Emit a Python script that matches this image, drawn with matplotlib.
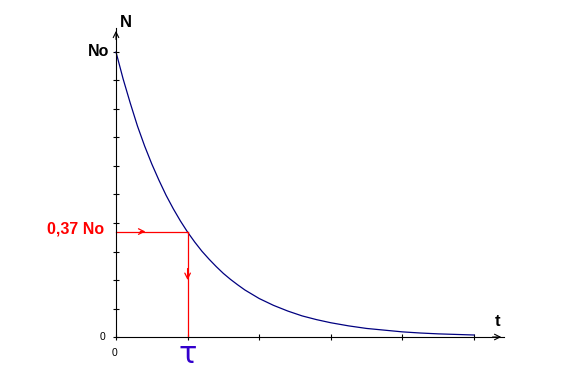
import numpy as np
import matplotlib
matplotlib.use('Agg')
import matplotlib.pyplot as plt

# values (t in units of tau, N in units of No)
t_vals = [0.0, 0.1, 0.2, 0.3, 0.4, 0.5, 0.6, 0.7, 0.8, 0.9, 1.0,
          1.1, 1.2, 1.3, 1.4, 1.5, 1.6, 1.7, 1.8, 1.9, 2.0,
          2.2, 2.4, 2.6, 2.8, 3.0, 3.25, 3.5, 3.75, 4.0, 4.25, 4.5, 4.75, 5.0]
n_vals = [1.00, 0.905, 0.82, 0.74, 0.67, 0.607, 0.55, 0.497, 0.45, 0.407, 0.368,
          0.333, 0.301, 0.273, 0.247, 0.223, 0.202, 0.183, 0.165, 0.15, 0.135,
          0.111, 0.091, 0.074, 0.061, 0.05, 0.039, 0.030, 0.024, 0.018, 0.014,
          0.011, 0.009, 0.007]
tau = 1.0
n_tau = 0.37
x_ticks = [0, 1, 2, 3, 4, 5]
y_ticks = [0.0, 0.1, 0.2, 0.3, 0.4, 0.5, 0.6, 0.7, 0.8, 0.9, 1.0]
x_end = 5.42
y_end = 1.084

plt.rcParams['font.family'] = ['Liberation Sans', 'DejaVu Sans']

fig = plt.figure(figsize=(5.64, 3.92), dpi=100)
ax = fig.add_axes([0, 0, 1, 1])
# pixel mapping: x px = 116 + 71.6 t, y px = 337 - 285 N
ax.set_xlim(-116 / 71.6, (564 - 116) / 71.6)
ax.set_ylim(-55 / 285, 337 / 285)

for s in ['top', 'right']:
    ax.spines[s].set_visible(False)
ax.spines['left'].set_position(('data', 0))
ax.spines['bottom'].set_position(('data', 0))
ax.spines['left'].set_bounds(0, y_end)
ax.spines['bottom'].set_bounds(0, x_end)
ax.spines['left'].set_linewidth(0.8)
ax.spines['bottom'].set_linewidth(0.8)
ax.set_xticks(x_ticks)
ax.set_yticks(y_ticks)
ax.tick_params(direction='inout', length=4, width=0.8, labelbottom=False, labelleft=False)

# axis arrowheads
ax.annotate('', xy=(0, y_end), xytext=(0, y_end - 0.05),
            arrowprops=dict(arrowstyle='->', color='black', lw=0.8, mutation_scale=10))
ax.annotate('', xy=(x_end, 0), xytext=(x_end - 0.2, 0),
            arrowprops=dict(arrowstyle='->', color='black', lw=0.8, mutation_scale=10))

# decay curve
ax.plot(t_vals, n_vals, color='#000080', lw=0.9)

# red construction lines
ax.plot([0, tau], [n_tau, n_tau], color='red', lw=0.9)
ax.plot([tau, tau], [n_tau, 0], color='red', lw=0.9)
ax.annotate('', xy=(0.45, n_tau), xytext=(0.3, n_tau),
            arrowprops=dict(arrowstyle='->', color='red', lw=0.9, mutation_scale=10))
ax.annotate('', xy=(tau, 0.19), xytext=(tau, 0.25),
            arrowprops=dict(arrowstyle='->', color='red', lw=0.9, mutation_scale=10))

# labels
ax.text(0.14, 1.105, 'N', fontsize=12, fontweight='bold', ha='center', va='center')
ax.text(-0.1, 1.0, 'No', fontsize=11.5, fontweight='bold', ha='right', va='center')
ax.text(-0.17, 0.378, '0,37 No', fontsize=11.5, fontweight='bold', color='red',
        ha='right', va='center')
ax.text(-0.15, 0.0, '0', fontsize=7.5, ha='right', va='center')
ax.text(-0.02, -0.055, '0', fontsize=7.5, ha='center', va='center')
ax.text(5.33, 0.055, 't', fontsize=12, fontweight='bold', ha='center', va='center')
ax.text(tau, -0.06, 'τ', fontsize=22, color='#3300cc', family='DejaVu Sans',
        ha='center', va='center')

fig.savefig('out.png', dpi=100)
